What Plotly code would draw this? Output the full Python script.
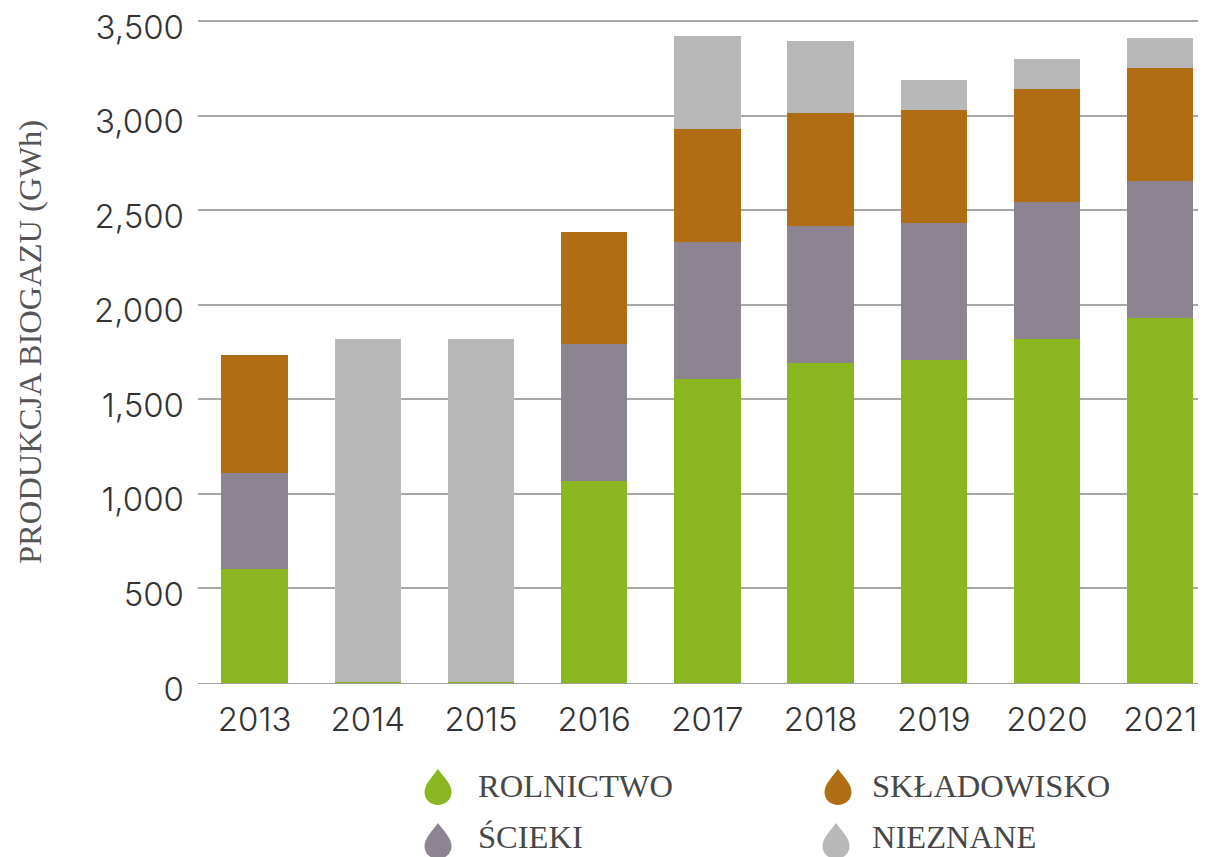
import plotly.graph_objects as go

years = ["2013","2014","2015","2016","2017","2018","2019","2020","2021"]
rolnictwo = [603, 5, 5, 1068, 1607, 1692, 1708, 1819, 1930]
scieki = [507, 0, 0, 724, 725, 724, 724, 724, 724]
skladowisko = [624, 0, 0, 593, 597, 598, 598, 598, 598]
nieznane = [0, 1814, 1814, 0, 492, 380, 158, 158, 158]
tick_vals = [0, 500, 1000, 1500, 2000, 2500, 3000, 3500]
tick_text = ["0", "500", "1,000", "1,500", "2,000", "2,500", "3,000", "3,500"]
legend_names = ["ROLNICTWO", "ŚCIEKI", "SKŁADOWISKO", "NIEZNANE"]
colors = ["#8ab71f", "#8c8591", "#b06d13", "#b8b8b8"]

# The page has an 8px body margin, and the picture ends at x=1198.
W, H = 1198, 849
OFF = 8
L, R = 198 - OFF, 1198 - OFF
T, B = 17.2 - OFF, 683 - OFF

def px(x):
    return (x - OFF) / W

def py(y):
    return 1 - (y - OFF) / H

fig = go.Figure()
for name, vals, color in zip(legend_names, [rolnictwo, scieki, skladowisko, nieznane], colors):
    fig.add_bar(x=years, y=vals, name=name, marker_color=color, marker_line_width=0, showlegend=False)

def drop_path(cx, cy):
    w, h = 13.5, 18
    pts = [
        f"M {px(cx)},{py(cy - h)}",
        f"C {px(cx + 5)},{py(cy - h + 7)} {px(cx + w)},{py(cy - 3)} {px(cx + w)},{py(cy + 5)}",
        f"C {px(cx + w)},{py(cy + 13)} {px(cx + 7)},{py(cy + h)} {px(cx)},{py(cy + h)}",
        f"C {px(cx - 7)},{py(cy + h)} {px(cx - w)},{py(cy + 13)} {px(cx - w)},{py(cy + 5)}",
        f"C {px(cx - w)},{py(cy - 3)} {px(cx - 5)},{py(cy - h + 7)} {px(cx)},{py(cy - h)} Z",
    ]
    return " ".join(pts)

legend_layout = [(438, 787, 477, 786), (438, 841, 477, 837), (838, 787, 871, 786), (836, 841, 871, 837)]
for (cx, cy, tx, ty), label, color in zip(legend_layout, legend_names, colors):
    fig.add_shape(type="path", xref="paper", yref="paper", path=drop_path(cx, cy),
                  fillcolor=color, line_width=0, layer="above")
    fig.add_annotation(xref="paper", yref="paper", x=px(tx), y=py(ty), text=label, showarrow=False,
                       font=dict(size=32.5, color="#474747", family="Liberation Serif"),
                       xanchor="left", yanchor="middle", borderpad=0)

fig.update_layout(
    width=W, height=H, barmode="stack", bargap=0.415,
    paper_bgcolor="white", plot_bgcolor="white",
    margin=dict(l=0, r=0, t=0, b=0, autoexpand=False),
    font=dict(family="Inter", color="#333333"),
    xaxis=dict(domain=[L / W, R / W], tickfont=dict(size=33, color="#333333", family="Inter", weight=300),
               ticks="", showgrid=False, showline=True, linecolor="#a0a0a0", linewidth=1,
               range=[-0.5, 8.334], anchor="y", ticklabelstandoff=7, ticklabeloverflow="allow"),
    yaxis=dict(domain=[1 - B / H, 1 - T / H], range=[0, 3520], tickvals=tick_vals, ticktext=tick_text,
               tickfont=dict(size=33, color="#333333", family="Inter", weight=300),
               gridcolor="#a8a8a8", gridwidth=1.5, zeroline=False, ticks="",
               ticklabelstandoff=13, ticklabelshift=6, ticklabeloverflow="allow"),
)
fig.add_annotation(xref="paper", yref="paper", x=px(30), y=py(342), text="PRODUKCJA BIOGAZU (GWh)",
                   textangle=-90, showarrow=False, xanchor="center", yanchor="middle",
                   font=dict(family="Liberation Serif", size=32.5, color="#555555"))
fig.write_html("out.html")
